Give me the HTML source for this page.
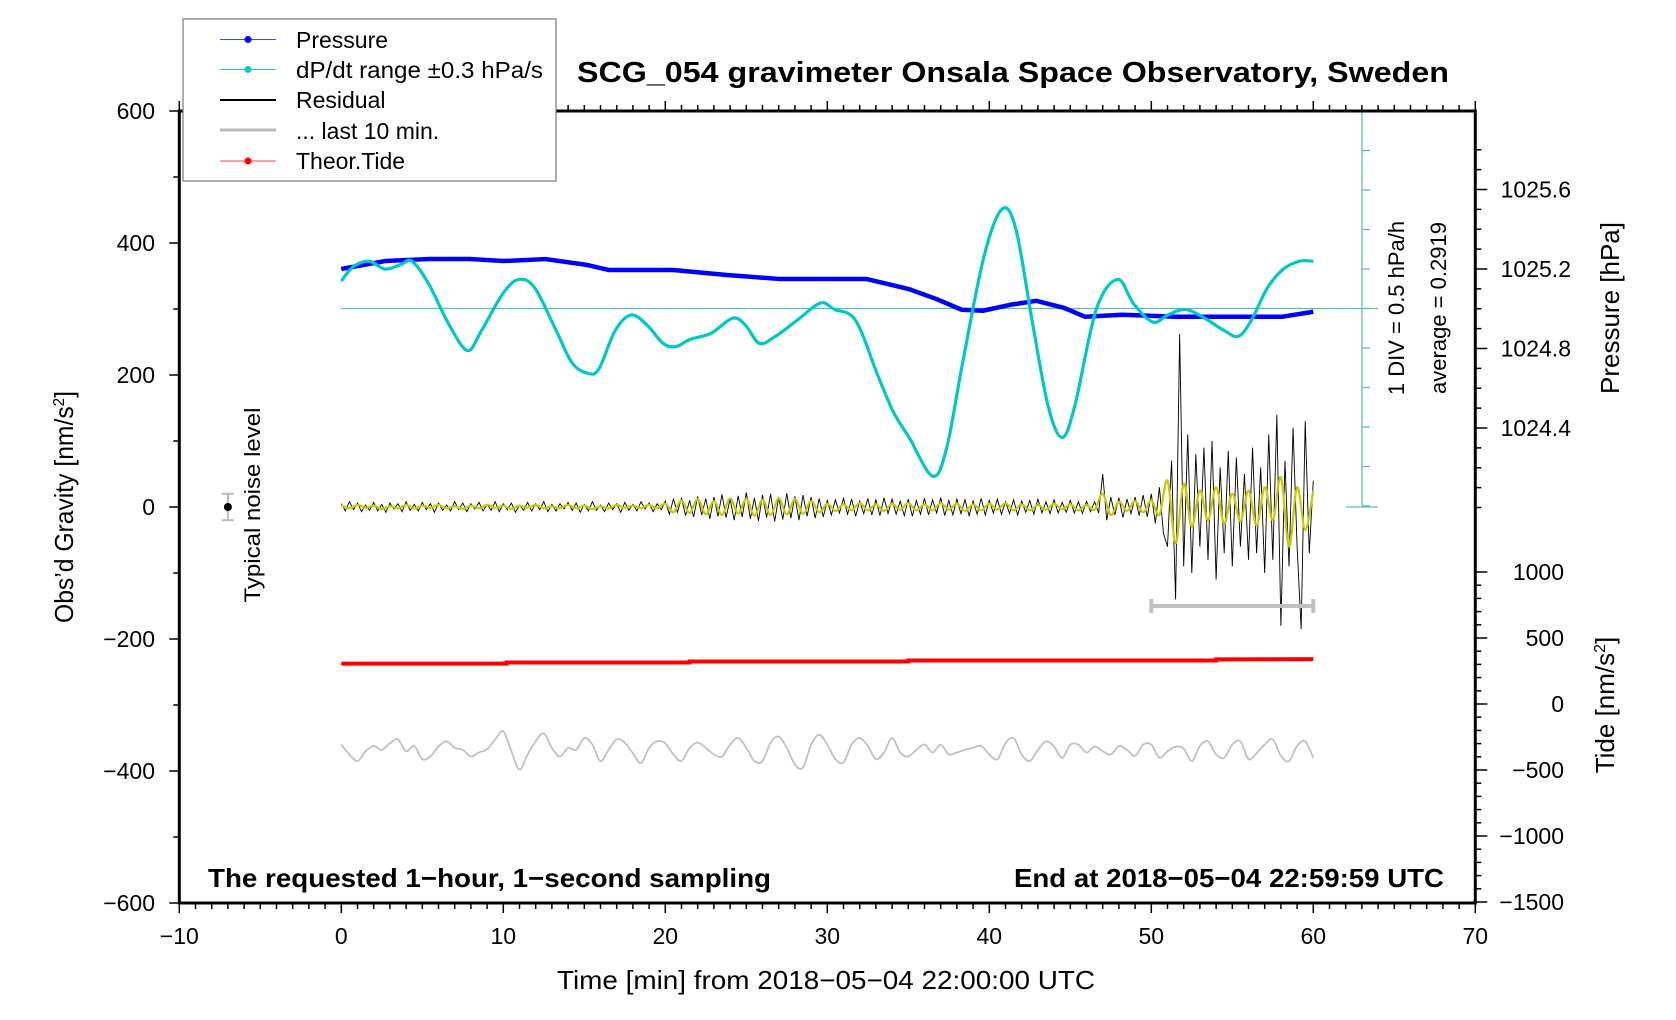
<!DOCTYPE html>
<html><head><meta charset="utf-8"><style>
html,body{margin:0;padding:0;background:#fff;}
svg{display:block;font-family:"Liberation Sans",sans-serif;}
</style></head><body>
<svg id="chart" width="1676" height="1020" viewBox="0 0 1676 1020" xmlns="http://www.w3.org/2000/svg">
<rect x="0" y="0" width="1676" height="1020" fill="#fff"/>
<g id="marks"></g>
<g id="axes"></g>
<text x="577" y="82" font-size="29" font-weight="bold" textLength="872" lengthAdjust="spacingAndGlyphs">SCG_054 gravimeter Onsala Space Observatory, Sweden</text>
<text x="208" y="887" font-size="26" font-weight="bold" textLength="563" lengthAdjust="spacingAndGlyphs">The requested 1−hour, 1−second sampling</text>
<text x="1444" y="887" font-size="26" font-weight="bold" text-anchor="end" textLength="430" lengthAdjust="spacingAndGlyphs">End at 2018−05−04 22:59:59 UTC</text>
<text x="826" y="989" font-size="26" text-anchor="middle" textLength="538" lengthAdjust="spacingAndGlyphs">Time [min] from 2018−05−04 22:00:00 UTC</text>
<text transform="translate(73,507) rotate(-90)" font-size="26" text-anchor="middle" textLength="232" lengthAdjust="spacingAndGlyphs">Obs’d Gravity [nm/s<tspan dy="-9" font-size="16">2</tspan><tspan dy="9">]</tspan></text>
<text transform="translate(260,505) rotate(-90)" font-size="22" text-anchor="middle" textLength="195" lengthAdjust="spacingAndGlyphs">Typical noise level</text>
<text transform="translate(1404,308) rotate(-90)" font-size="22" text-anchor="middle">1 DIV = 0.5 hPa/h</text>
<text transform="translate(1446,308) rotate(-90)" font-size="22" text-anchor="middle">average = 0.2919</text>
<text transform="translate(1619,308) rotate(-90)" font-size="26" text-anchor="middle">Pressure [hPa]</text>
<text transform="translate(1614,705) rotate(-90)" font-size="26" text-anchor="middle">Tide [nm/s<tspan dy="-9" font-size="16">2</tspan><tspan dy="9">]</tspan></text>
<g>
<rect x="183" y="19" width="373" height="162" fill="#fff" stroke="#777" stroke-width="1.2"/>
<g><line x1="220" y1="39.5" x2="276" y2="39.5" stroke="#44f" stroke-width="1"/><circle cx="248" cy="39.5" r="3.5" fill="#00f"/><text x="296" y="48" font-size="23">Pressure</text></g>
<g><line x1="220" y1="69.5" x2="276" y2="69.5" stroke="#2cc" stroke-width="1"/><circle cx="248" cy="69.5" r="3.5" fill="#0cc"/><text x="296" y="78" font-size="23" textLength="247" lengthAdjust="spacingAndGlyphs">dP/dt range ±0.3 hPa/s</text></g>
<g><line x1="220" y1="100" x2="276" y2="100" stroke="#000" stroke-width="2"/><text x="296" y="108" font-size="23">Residual</text></g>
<g><line x1="220" y1="130" x2="276" y2="130" stroke="#bbb" stroke-width="3"/><text x="296" y="139" font-size="23">... last 10 min.</text></g>
<g><line x1="220" y1="161" x2="276" y2="161" stroke="#f44" stroke-width="1"/><circle cx="248" cy="161" r="3.5" fill="#f00"/><text x="296" y="169" font-size="23">Theor.Tide</text></g>
</g>
</svg>
<script>
const pressureTimes=[0,2.7,5.3,8,10,12.6,15.2,16.5,20.5,23.8,27,32.4,35,36.7,38.3,39.6,41.3,42.9,44.6,45.9,48.2,51.5,56.1,58.1,60];
const pressureValues=[1025.20,1025.24,1025.25,1025.25,1025.24,1025.25,1025.22,1025.195,1025.195,1025.17,1025.15,1025.15,1025.10,1025.05,1024.995,1024.99,1025.02,1025.04,1025.005,1024.96,1024.97,1024.96,1024.96,1024.96,1024.985];
const dpdtTimes=[0,0.73,1.72,2.71,3.70,4.36,5.35,6.67,7.79,8.65,9.97,10.96,11.95,13.27,14.26,15.25,15.91,16.90,17.89,18.88,19.87,20.66,21.52,22.84,24.16,24.95,25.81,26.80,28.12,29.57,30.43,31.75,33.07,34.06,35.05,36.50,37.36,38.35,39.67,40.79,41.65,42.64,43.63,44.49,45.28,46.60,47.92,48.91,50.10,51.02,52.08,53.20,54.52,55.38,56.17,57.16,58.15,59.14,60];
const dpdtValues=[0.64,0.82,0.89,0.79,0.85,0.89,0.62,0.08,-0.24,0.01,0.48,0.66,0.55,0.01,-0.40,-0.53,-0.47,0.01,0.21,0.08,-0.15,-0.19,-0.10,-0.02,0.17,0.08,-0.15,-0.06,0.14,0.36,0.28,0.14,-0.53,-1.01,-1.34,-1.83,-1.48,-0.40,0.95,1.55,1.29,0.14,-0.94,-1.34,-0.94,0.28,0.66,0.35,0.12,0.21,0.28,0.18,0.01,-0.06,0.14,0.55,0.79,0.89,0.89];
const dpdtAverage=0.2919;
const residualStep=0.25;
const residualValues=[5,-6,8,-4,6,-7,3,-5,7,-6,4,-8,6,-3,5,-7,8,-5,4,-6,7,-4,5,-8,6,-5,3,-6,8,-4,6,-7,5,-3,7,-6,4,-5,8,-7,5,-4,6,-8,3,-5,7,-6,5,-4,8,-7,4,-6,5,-3,7,-5,6,-8,4,-6,8,-5,3,-7,6,-4,5,-8,7,-5,4,-6,8,-3,6,-7,5,-4,
9,-11,12,-8,14,-13,10,-15,16,-12,13,-18,15,-14,19,-16,12,-20,17,-15,22,-18,14,-21,18,-16,20,-22,15,-19,21,-17,16,-20,18,-14,15,-17,13,-15,
10,-12,11,-9,13,-11,12,-14,9,-10,13,-12,11,-13,14,-10,12,-11,9,-13,12,-14,10,-11,13,-12,11,-9,14,-13,10,-12,12,-10,11,-13,9,-11,13,-12,10,-9,12,-11,8,-10,11,-12,9,-8,10,-11,12,-9,8,-10,11,-9,7,-8,10,-9,8,-10,9,-7,8,-9,
50,-20,15,-12,14,-16,12,-10,15,-13,18,-15,20,-25,30,-40,
-60,70,-140,262,-90,110,-100,80,-60,90,-80,100,-110,60,-70,85,-90,75,-60,50,-80,90,-70,60,-100,110,-80,140,-180,70,-90,120,-60,-185,130,-70,40];
const filteredStep=0.5;
const filteredValues=[2,-2,3,-1,2,-3,1,-2,3,-2,2,-1,3,-2,1,-3,2,-2,3,-1,2,-3,2,-1,3,-2,1,-2,3,-2,2,-3,1,-2,3,-1,2,-2,3,-2,
5,-8,10,-9,12,-11,9,-12,13,-10,12,-13,11,-12,13,-11,12,-10,9,-8,
5,-6,4,-5,6,-5,4,-6,5,-4,6,-5,4,-5,6,-4,5,-6,4,-5,5,-4,6,-5,4,-5,3,-4,5,-3,4,-5,3,-4,
20,-12,8,-6,9,-8,10,-12,
40,-55,35,-30,25,-20,30,-25,20,-22,25,-28,30,-20,45,-60,30,-35,25];
const grayStep=0.5;
const grayValues=[-360,-375,-385,-370,-362,-368,-358,-352,-370,-362,-382,-378,-363,-355,-365,-368,-378,-372,-367,-352,-340,-370,-398,-375,-355,-343,-365,-378,-365,-368,-350,-360,-385,-368,-352,-357,-373,-388,-365,-355,-358,-375,-385,-365,-357,-365,-375,-378,-360,-350,-365,-385,-385,-357,-348,-365,-390,-395,-360,-345,-360,-382,-387,-360,-350,-362,-382,-372,-350,-372,-378,-368,-360,-372,-360,-375,-372,-368,-365,-362,-375,-382,-358,-350,-375,-385,-368,-355,-363,-380,-360,-360,-372,-363,-370,-375,-362,-368,-377,-360,-360,-380,-370,-363,-366,-385,-362,-355,-375,-380,-360,-355,-382,-373,-360,-352,-377,-385,-362,-355,-380];
const tideTimes=[0,10.2,10.2,21.5,21.5,35,35,54,54,60];
const tideValues=[306,306,314,314,322,322,330,330,338,340];
const xTicks=[-10,0,10,20,30,40,50,60,70];
const yTicks=[-600,-400,-200,0,200,400,600];
const pressureTicks=[1024.4,1024.8,1025.2,1025.6];
const tideTicks=[-1500,-1000,-500,0,500,1000];

const X=m=>341.3+m*16.2;
const Y=g=>507-g*0.66;
const YP=p=>269-(p-1025.2)*198.75;
const YT=t=>704-t*0.132;
const YD=v=>308.5-(v-dpdtAverage)*79;
const NS='http://www.w3.org/2000/svg';
const marks=document.getElementById('marks');
const axes=document.getElementById('axes');
function mk(tag,parent,attrs){const e=document.createElementNS(NS,tag);for(const k in attrs)e.setAttribute(k,attrs[k]);parent.appendChild(e);return e;}
function pts(xs,ys){return xs.map((x,i)=>x.toFixed(2)+','+ys[i].toFixed(2)).join(' ');}
function smooth(xs,ys){let d='M'+xs[0].toFixed(2)+','+ys[0].toFixed(2);
for(let i=0;i<xs.length-1;i++){const i0=Math.max(0,i-1),i3=Math.min(xs.length-1,i+2);
const c1x=xs[i]+(xs[i+1]-xs[i0])/6,c1y=ys[i]+(ys[i+1]-ys[i0])/6;
const c2x=xs[i+1]-(xs[i3]-xs[i])/6,c2y=ys[i+1]-(ys[i3]-ys[i])/6;
d+=' C'+c1x.toFixed(2)+','+c1y.toFixed(2)+' '+c2x.toFixed(2)+','+c2y.toFixed(2)+' '+xs[i+1].toFixed(2)+','+ys[i+1].toFixed(2);}
return d;}

let l=mk('line',marks,{x1:X(0),y1:YD(dpdtAverage),x2:1378,y2:YD(dpdtAverage),stroke:'#5bbcbc','stroke-width':1.3});


l=mk('line',marks,{x1:1362,y1:111,x2:1362,y2:507,stroke:'#5bbcbc','stroke-width':1.3});


for(const yy of [111,507]){l=mk('line',marks,{x1:1346,y1:yy,x2:1378,y2:yy,stroke:'#5bbcbc','stroke-width':1.3});

}
for(let k=-5;k<=5;k++){const yy=308.5+k*39.5;if(yy<=111||yy>=507)continue;
l=mk('line',marks,{x1:1362,y1:yy,x2:1370,y2:yy,stroke:'#5bbcbc','stroke-width':1.3});

}

let p=mk('polyline',marks,{points:pts(pressureTimes.map(X),pressureValues.map(YP)),fill:'none',stroke:'#0000ff','stroke-width':4.5,'stroke-linejoin':'round'});


p=mk('path',marks,{d:smooth(dpdtTimes.map(X),dpdtValues.map(YD)),fill:'none',stroke:'#00c8c8','stroke-width':3.2,'stroke-linejoin':'round'});


p=mk('polyline',marks,{points:pts(residualValues.map((v,i)=>X(i*residualStep)),residualValues.map(Y)),fill:'none',stroke:'#000','stroke-width':0.9});


p=mk('path',marks,{d:smooth(filteredValues.map((v,i)=>X(i*filteredStep)),filteredValues.map(Y)),fill:'none',stroke:'#c8c800','stroke-width':2.2});


p=mk('path',marks,{d:smooth(grayValues.map((v,i)=>X(i*grayStep)),grayValues.map(Y)),fill:'none',stroke:'#c0c0c0','stroke-width':1.8,'stroke-linejoin':'round'});


p=mk('polyline',marks,{points:pts(tideTimes.map(X),tideValues.map(YT)),fill:'none',stroke:'#ff0000','stroke-width':4});


const bg=mk('g',marks,{stroke:'#c0c0c0','stroke-width':4});


mk('line',bg,{x1:X(50),y1:Y(-150),x2:X(60),y2:Y(-150)});
mk('line',bg,{x1:X(50),y1:Y(-150)-7,x2:X(50),y2:Y(-150)+7});
mk('line',bg,{x1:X(60),y1:Y(-150)-7,x2:X(60),y2:Y(-150)+7});
const ng=mk('g',marks,{stroke:'#bbb','stroke-width':2});


mk('line',ng,{x1:X(-7),y1:Y(20),x2:X(-7),y2:Y(-20)});
mk('line',ng,{x1:X(-7)-6,y1:Y(20),x2:X(-7)+6,y2:Y(20)});
mk('line',ng,{x1:X(-7)-6,y1:Y(-20),x2:X(-7)+6,y2:Y(-20)});
mk('circle',ng,{cx:X(-7),cy:Y(0),r:4,fill:'#000',stroke:'none'});

const fr=mk('rect',axes,{x:X(-10),y:111,width:X(70)-X(-10),height:792,fill:'none',stroke:'#000','stroke-width':3});


const tk=mk('g',axes,{stroke:'#000','stroke-width':1.5});


for(let m=-10;m<=70;m++){const maj=m%10===0;const x=X(m);
mk('line',tk,{x1:x,y1:903,x2:x,y2:903+(maj?10:6)});
mk('line',tk,{x1:x,y1:111,x2:x,y2:111-(maj?10:6)});}
for(let g=-600;g<=600;g+=100){mk('line',tk,{x1:X(-10),y1:Y(g),x2:X(-10)-(g%200===0?10:6),y2:Y(g)});}
for(let t=-1500;t<=1000;t+=100){mk('line',tk,{x1:X(70),y1:YT(t),x2:X(70)+(t%500===0?12:6),y2:YT(t)});}
for(let i=0;i<=18;i++){const pv=1024.0+i*0.1;const y=YP(pv);if(y<111)continue;const maj=i%4===0&&i>0;
mk('line',tk,{x1:X(70),y1:y,x2:X(70)+(maj?12:6),y2:y});}
for(const v of xTicks){const t=mk('text',axes,{x:X(v),y:944,'font-size':23,'text-anchor':'middle'});t.textContent=String(v).replace('-','−');

}
for(const v of yTicks){const t=mk('text',axes,{x:155,y:Y(v)+8,'font-size':23,'text-anchor':'end'});t.textContent=String(v).replace('-','−');

}
for(const v of pressureTicks){const t=mk('text',axes,{x:1571,y:YP(v)+8,'font-size':23,'text-anchor':'end'});t.textContent=v.toFixed(1);

}
for(const v of tideTicks){const t=mk('text',axes,{x:1564,y:YT(v)+8,'font-size':23,'text-anchor':'end'});t.textContent=String(v).replace('-','−');

}
</script>
</body></html>
